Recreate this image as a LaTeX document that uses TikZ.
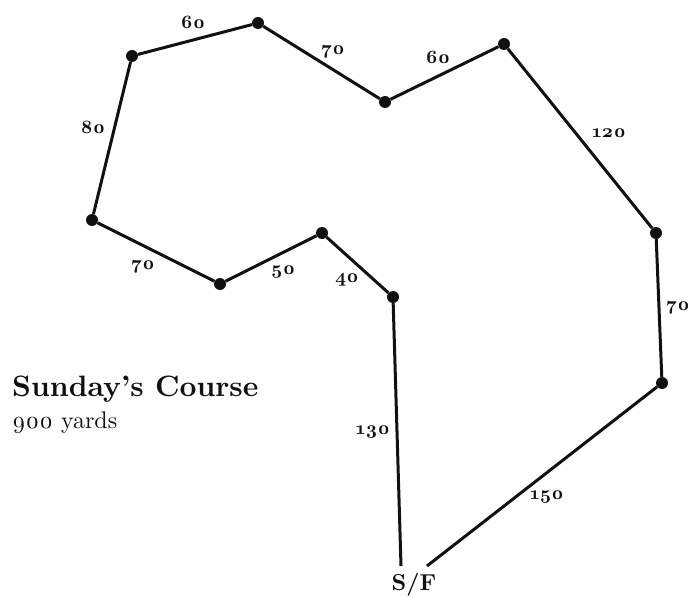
\documentclass[tikz,border=0pt]{standalone}
\usepackage{fontspec}
\setmainfont{lmroman10-regular.otf}[BoldFont=lmroman10-bold.otf,Numbers=OldStyle]
\usetikzlibrary{positioning,calc}
\definecolor{ink}{HTML}{111111}
\tikzset{
  turn/.style={circle,fill=ink,inner sep=0pt,minimum size=12pt},
  leg/.style ={line width=3pt,ink,line join=round},
  yd/.style  ={font=\bfseries\fontsize{19}{21}\selectfont,text=ink,inner sep=0pt},
}

\begin{document}
\begin{tikzpicture}[x=1pt,y=-1pt]
\useasboundingbox (0,0) rectangle (692,596);
% turning points of the course
\node[turn] (a) at (393,297) {};
\node[turn] (b) at (322,233) {};
\node[turn] (c) at (220,284) {};
\node[turn] (d) at (92,220) {};
\node[turn] (e) at (132,56) {};
\node[turn] (f) at (258,23) {};
\node[turn] (g) at (385,102) {};
\node[turn] (h) at (504,44) {};
\node[turn] (i) at (656,233) {};
\node[turn] (j) at (662,383) {};
% start / finish
\node[font=\bfseries\fontsize{23}{25}\selectfont,text=ink,inner sep=0pt] (sf) at (414,585) {S/F};
\coordinate (sfl) at (401,566);
\coordinate (sfr) at (427,566);
% the legs
\draw[leg] (sfl) -- (a) -- (b) -- (c) -- (d) -- (e) -- (f) -- (g) -- (h) -- (i) -- (j) -- (sfr);
% yardages
\node[yd] (ya) at (373,432) {130};
\node[yd] (yb) at (347,280) {40};
\node[yd] (yc) at (283,272) {50};
\node[yd] (yd1) at (143,267) {70};
\node[yd] (ye) at (93,127) {80};
\node[yd] (yf) at (193,22) {60};
\node[yd] (yg) at (333,52) {70};
\node[yd] (yh) at (438,57) {60};
\node[yd] (yi) at (609,133) {120};
\node[yd] (yj) at (678,308) {70};
\node[yd] (yk) at (547,497) {150};
% title
\node[anchor=base west,inner sep=0pt,text=ink,font=\bfseries\fontsize{29.5}{32}\selectfont] (title) at (12,396) {Sunday’s Course};
\node[anchor=base west,inner sep=0pt,text=ink,font=\fontsize{24}{26}\selectfont] (total) at (12,428) {900 yards};
\end{tikzpicture}
\end{document}
